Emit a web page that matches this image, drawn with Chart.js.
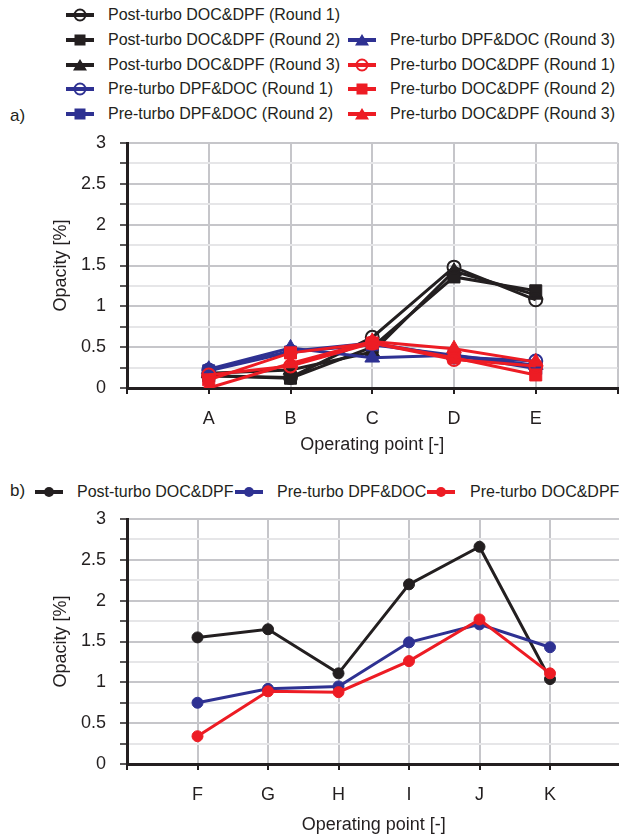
<!DOCTYPE html>
<html>
<head>
<meta charset="utf-8">
<script src="https://cdn.jsdelivr.net/npm/chart.js@4.4.0/dist/chart.umd.min.js"></script>
<style>
  body { margin: 0; background: #fff; font-family: "Liberation Sans", Arial, sans-serif; color: #231f20; }
  #page { position: relative; width: 619px; height: 840px; overflow: hidden; }
  .box { position: absolute; left: 0; width: 627px; }
  .key { position: absolute; display: flex; align-items: center; font-size: 16px; white-space: nowrap; height: 20px; }
  .key svg { flex: none; }
  .tag { position: absolute; font-size: 17px; line-height: 20px; }
</style>
</head>
<body>
<div id="page">
  <div id="legendA"></div>
  <div class="tag" style="left:10px; top:106px;">a)</div>
  <div class="box" style="top:130px; height:330px;"><canvas id="chartA"></canvas></div>

  <div id="legendB"></div>
  <div class="tag" style="left:10px; top:481px;">b)</div>
  <div class="box" style="top:505px; height:335px;"><canvas id="chartB"></canvas></div>
</div>
<script>
// operating points
const pointsA = ["A", "B", "C", "D", "E"];
const pointsB = ["F", "G", "H", "I", "J", "K"];
const yTicks = [0, 0.5, 1, 1.5, 2, 2.5, 3];

// opacity [%] per round, chart a)
const postR1 = [0.15, 0.13, 0.62, 1.48, 1.08];
const postR2 = [0.15, 0.12, 0.50, 1.36, 1.19];
const postR3 = [0.18, 0.22, 0.44, 1.43, 1.14];
const dpfR1 = [0.22, 0.45, 0.55, 0.38, 0.33];
const dpfR2 = [0.21, 0.44, 0.53, 0.40, 0.24];
const dpfR3 = [0.23, 0.49, 0.37, 0.40, 0.28];
const docR1 = [0.16, 0.27, 0.55, 0.35, 0.27];
const docR2 = [0.10, 0.43, 0.55, 0.37, 0.16];
const docR3 = [0.00, 0.30, 0.57, 0.48, 0.32];

// averaged opacity [%], chart b)
const postAvg = [1.55, 1.65, 1.11, 2.20, 2.66, 1.04];
const dpfAvg = [0.75, 0.92, 0.95, 1.49, 1.71, 1.43];
const docAvg = [0.34, 0.89, 0.88, 1.26, 1.77, 1.11];

const BLACK = "#231f20";
const BLUE = "#2e3192";
const RED = "#ed1c24";
const TEXT = "#231f20";

Chart.defaults.font.family = "'Liberation Sans', Arial, sans-serif";
Chart.defaults.color = TEXT;

function toPoints(cats, values) {
  return values.map((v, i) => ({ x: cats[i], y: v }));
}

const seriesA = [
  { label: "Post-turbo DOC&DPF (Round 1)", data: postR1, color: BLACK, marker: "circle" },
  { label: "Post-turbo DOC&DPF (Round 2)", data: postR2, color: BLACK, marker: "rect" },
  { label: "Post-turbo DOC&DPF (Round 3)", data: postR3, color: BLACK, marker: "triangle" },
  { label: "Pre-turbo DPF&DOC (Round 1)", data: dpfR1, color: BLUE, marker: "circle" },
  { label: "Pre-turbo DPF&DOC (Round 2)", data: dpfR2, color: BLUE, marker: "rect" },
  { label: "Pre-turbo DPF&DOC (Round 3)", data: dpfR3, color: BLUE, marker: "triangle" },
  { label: "Pre-turbo DOC&DPF (Round 1)", data: docR1, color: RED, marker: "circle" },
  { label: "Pre-turbo DOC&DPF (Round 2)", data: docR2, color: RED, marker: "rect" },
  { label: "Pre-turbo DOC&DPF (Round 3)", data: docR3, color: RED, marker: "triangle" }
];

const seriesB = [
  { label: "Post-turbo DOC&DPF", data: postAvg, color: BLACK, marker: "dot" },
  { label: "Pre-turbo DPF&DOC", data: dpfAvg, color: BLUE, marker: "dot" },
  { label: "Pre-turbo DOC&DPF", data: docAvg, color: RED, marker: "dot" }
];

// draw order: red on top, black at the bottom
const layer = { [BLACK]: 3, [BLUE]: 2, [RED]: 1 };

function markerRadius(m) {
  if (m === "rect") return 8.5;
  if (m === "triangle") return 8.5;
  if (m === "dot") return 5.5;
  return 6.5;
}

function makeDatasets(series, cats) {
  return series.map(s => ({
    label: s.label,
    data: toPoints(cats, s.data),
    borderColor: s.color,
    borderWidth: 3,
    pointStyle: s.marker === "dot" ? "circle" : s.marker,
    pointRadius: markerRadius(s.marker),
    pointBorderWidth: s.marker === "circle" ? 2 : 1,
    pointBackgroundColor: s.marker === "circle" ? "rgba(0,0,0,0)" : s.color,
    pointBorderColor: s.color,
    order: layer[s.color],
    tension: 0
  }));
}

function makeChart(id, cats, series, xHeight, top) {
  const labels = ["", ...cats, ""];
  return new Chart(document.getElementById(id), {
    type: "line",
    data: { labels: labels, datasets: makeDatasets(series, cats) },
    options: {
      responsive: true,
      maintainAspectRatio: false,
      animation: false,
      layout: { padding: { top: top, right: 2, left: 0, bottom: 0 } },
      plugins: { legend: { display: false }, tooltip: { enabled: false } },
      scales: {
        x: {
          type: "category",
          offset: false,
          afterFit: s => { s.height = xHeight; s.paddingLeft = 0; s.paddingRight = 0; },
          grid: { color: "#c6c6ca", lineWidth: 2, offset: false, tickLength: 6, tickColor: BLACK, tickWidth: 2 },
          border: { color: BLACK, width: 3 },
          ticks: { autoSkip: false, maxRotation: 0, padding: 14, font: { size: 18 } },
          title: { display: true, text: "Operating point [-]", font: { size: 18 }, padding: { top: 0, bottom: 4 } }
        },
        y: {
          min: 0,
          max: 3,
          afterFit: s => { s.width = 127; s.paddingTop = 0; s.paddingBottom = 0; },
          grid: {
            color: c => (c.tick && yTicks.includes(c.tick.value) ? "#c6c6ca" : "#e6e6e8"),
            lineWidth: 2,
            tickLength: 7,
            tickColor: BLACK,
            tickWidth: 1.5
          },
          border: { color: BLACK, width: 3 },
          ticks: {
            stepSize: 0.25,
            autoSkip: false,
            padding: 14,
            font: { size: 18 },
            callback: v => (yTicks.includes(v) ? String(v) : "")
          },
          title: { display: true, text: "Opacity [%]", font: { size: 18 }, padding: { top: 50, bottom: 0 } }
        }
      }
    }
  });
}

// legend icons: a short line with the series marker in its middle
function icon(color, marker) {
  let m = "";
  if (marker === "circle") m = `<circle cx="14" cy="8" r="5.5" fill="none" stroke="${color}" stroke-width="2"/>`;
  if (marker === "rect") m = `<rect x="8.5" y="2.5" width="11" height="11" fill="${color}"/>`;
  if (marker === "triangle") m = `<polygon points="14,2 21,13.5 7,13.5" fill="${color}"/>`;
  if (marker === "dot") m = `<circle cx="14" cy="8" r="5" fill="${color}"/>`;
  return `<svg width="28" height="16" viewBox="0 0 28 16"><line x1="0" y1="8" x2="28" y2="8" stroke="${color}" stroke-width="4"/>${m}</svg>`;
}

function legend(target, series, places) {
  document.getElementById(target).innerHTML = series.map((s, i) => {
    const p = places[i];
    return `<div class="key" style="left:${p[0]}px; top:${p[1] - 10}px;">${icon(s.color, s.marker)}<span style="margin-left:${p[2]}px">${s.label}</span></div>`;
  }).join("");
}

// [left of icon, vertical centre, gap to text]
legend("legendA", seriesA, [
  [66, 15, 14], [66, 40, 14], [66, 65, 14], [66, 89, 14], [66, 114, 14],
  [348, 40, 14], [348, 65, 14], [348, 89, 14], [348, 114, 14]
]);
legend("legendB", seriesB, [
  [35, 492, 14], [235, 492, 14], [427, 492, 15]
]);

makeChart("chartA", pointsA, seriesA, 72, 13);
makeChart("chartB", pointsB, seriesB, 76, 14);
</script>
</body>
</html>
